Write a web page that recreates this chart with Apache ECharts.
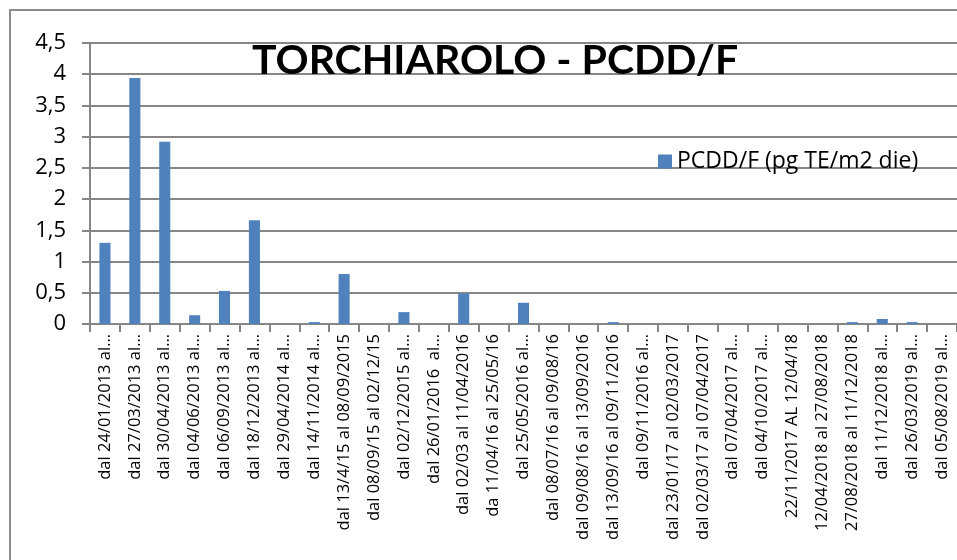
<!DOCTYPE html>
<html>
<head>
<meta charset="utf-8">
<script src="https://cdn.jsdelivr.net/npm/echarts@6/dist/echarts.min.js"></script>
<style>
  html, body { margin: 0; padding: 0; background: #fff; }
  #chart { width: 957px; height: 560px; }
</style>
</head>
<body>
<div id="chart"></div>
<script>
// periodi di campionamento
const categories = [
  'dal 24/01/2013 al…',
  'dal 27/03/2013 al…',
  'dal 30/04/2013 al…',
  'dal 04/06/2013 al…',
  'dal 06/09/2013 al…',
  'dal 18/12/2013 al…',
  'dal 29/04/2014 al…',
  'dal 14/11/2014 al…',
  'dal 13/4/15 al 08/09/2015',
  'dal 08/09/15 al 02/12/15',
  'dal 02/12/2015 al…',
  'dal 26/01/2016  al…',
  'dal 02/03 al 11/04/2016',
  'da 11/04/16 al 25/05/16',
  'dal 25/05/2016 al…',
  'dal 08/07/16 al 09/08/16',
  'dal 09/08/16 al 13/09/2016',
  'dal 13/09/16 al 09/11/2016',
  'dal 09/11/2016 al…',
  'dal 23/01/17 al 02/03/2017',
  'dal 02/03/17 al 07/04/2017',
  'dal 07/04/2017 al…',
  'dal 04/10/2017 al…',
  '22/11/2017 AL 12/04/18',
  '12/04/2018 al 27/08/2018',
  '27/08/2018 al 11/12/2018',
  'dal 11/12/2018 al…',
  'dal 26/03/2019 al…',
  'dal 05/08/2019 al…'
]

// PCDD/F (pg TE/m2 die)
const pcddValues = [
  1.30, 3.94, 2.92, 0.14, 0.53, 1.66, 0, 0.03, 0.80, 0,
  0.19, 0, 0.49, 0, 0.34, 0, 0, 0.03, 0, 0,
  0, 0, 0, 0, 0, 0.03, 0.08, 0.03, 0
]

const yTicks = { min: 0, max: 4.5, interval: 0.5 }

const chart = echarts.init(document.getElementById('chart'))

const option = {
  backgroundColor: '#fff',
  animation: false,
  title: {
    text: 'TORCHIAROLO - PCDD/F',
    left: 490,
    textAlign: 'center',
    top: 35,
    textStyle: {
      fontFamily: 'Lato',
      fontWeight: 'bold',
      fontSize: 41,
      color: '#000'
    }
  },
  legend: {
    data: ['PCDD/F (pg TE/m2 die)'],
    left: 653,
    top: 145,
    icon: 'rect',
    itemWidth: 14,
    itemHeight: 14,
    itemGap: 8,
    textStyle: {
      fontFamily: 'Open Sans',
      fontSize: 23,
      color: '#000'
    }
  },
  graphic: [
    {
      type: 'polyline',
      shape: { points: [[10, 560], [10, 10], [957, 10]] },
      style: { stroke: '#8c8c8c', lineWidth: 2, fill: null },
      silent: true
    }
  ],
  grid: {
    left: 90,
    top: 43,
    width: 875,
    height: 281
  },
  xAxis: {
    type: 'category',
    data: categories,
    axisLine: { lineStyle: { color: '#868686', width: 2 } },
    axisTick: {
      show: true,
      length: 8,
      alignWithLabel: false,
      lineStyle: { color: '#868686', width: 2 }
    },
    axisLabel: {
      interval: 0,
      rotate: 90,
      margin: 10,
      fontFamily: 'Open Sans',
      fontSize: 16.5,
      color: '#000'
    }
  },
  yAxis: {
    type: 'value',
    min: yTicks.min,
    max: yTicks.max,
    interval: yTicks.interval,
    axisLine: { show: true, lineStyle: { color: '#868686', width: 2 } },
    axisTick: { show: true, length: 8, lineStyle: { color: '#868686', width: 2 } },
    splitLine: { lineStyle: { color: '#868686', width: 2 } },
    axisLabel: {
      margin: 24,
      fontFamily: 'Open Sans',
      fontSize: 22,
      color: '#000',
      formatter: v => String(v).replace('.', ',')
    }
  },
  series: [
    {
      name: 'PCDD/F (pg TE/m2 die)',
      type: 'bar',
      data: pcddValues,
      barWidth: '37%',
      itemStyle: { color: '#4F81BD' }
    }
  ]
}

chart.setOption(option)
</script>
</body>
</html>
